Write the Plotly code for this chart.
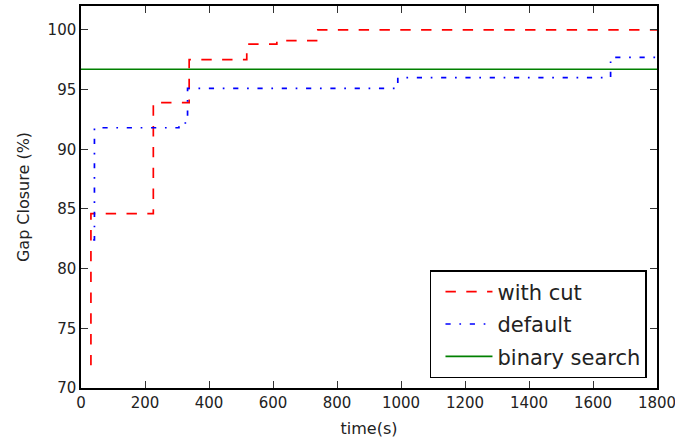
import plotly.graph_objects as go

# Data
cut_t = [31, 31, 226, 338, 518, 612, 740, 1800]
cut_gap = [71.9, 84.6, 93.9, 97.5, 98.8, 99.1, 100.0, 100.0]

def_t = [38, 42, 306, 333, 990, 1655, 1800]
def_gap = [82.4, 91.8, 92.2, 95.1, 96.0, 97.7, 97.7]

bin_t = [0, 1800]
bin_gap = [96.7, 96.7]

x_ticks = [0, 200, 400, 600, 800, 1000, 1200, 1400, 1600, 1800]
y_ticks = [70, 75, 80, 85, 90, 95, 100]

fig = go.Figure()
fig.add_trace(go.Scatter(x=cut_t, y=cut_gap, mode="lines", name="with cut",
                         line=dict(color="#ff0000", width=1.7, dash="10.4px,10.4px", shape="hv"),
                         legendgroup="a"))
fig.add_trace(go.Scatter(x=def_t, y=def_gap, mode="lines", name="default",
                         line=dict(color="#0000ff", width=1.7, dash="5.2px,8.7px,1.7px,8.7px", shape="hv"),
                         legendgroup="b"))
fig.add_trace(go.Scatter(x=bin_t, y=bin_gap, mode="lines", name="binary search",
                         line=dict(color="#008000", width=1.7),
                         legendgroup="c"))

axis_common = dict(showline=True, linecolor="black", linewidth=1.5, mirror="allticks",
                   ticks="inside", ticklen=7, tickcolor="#333", tickwidth=1,
                   showgrid=False, zeroline=False, ticklabeloverflow="allow",
                   tickfont=dict(family="DejaVu Sans", size=15, color="#222"))

fig.update_xaxes(range=[0, 1800], tickvals=x_ticks, ticktext=[str(v) for v in x_ticks],
                 title=dict(text="time(s)", font=dict(family="DejaVu Sans", size=16, color="#222"), standoff=12),
                 **axis_common)
fig.update_yaxes(range=[70, 102], tickvals=y_ticks, ticktext=[str(v) for v in y_ticks],
                 title=dict(text="Gap Closure (%)", font=dict(family="DejaVu Sans", size=16, color="#222"), standoff=14),
                 **axis_common)

fig.update_layout(
    width=675, height=444,
    margin=dict(l=81, r=18, t=6, b=56, autoexpand=False),
    paper_bgcolor="white", plot_bgcolor="white",
    font=dict(family="DejaVu Sans", color="#222"),
    legend=dict(x=0.9826, y=0.026, xanchor="right", yanchor="bottom",
                bordercolor="black", borderwidth=1.5, bgcolor="white",
                font=dict(family="DejaVu Sans", size=21, color="#222"),
                tracegroupgap=2, itemwidth=47, indentation=9),
)

fig.write_html("out.html", config={"displayModeBar": False},
               post_script="document.body.style.margin='0px';")
